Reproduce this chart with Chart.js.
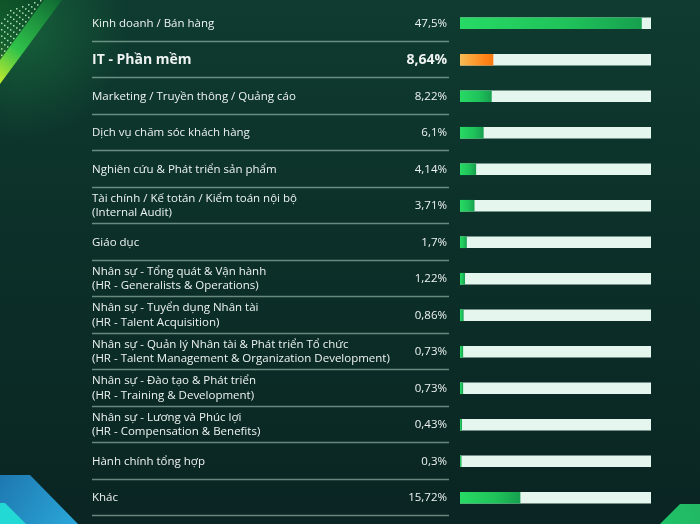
<!DOCTYPE html>
<html>
<head>
<meta charset="utf-8">
<script src="https://cdn.jsdelivr.net/npm/chart.js@4.4.0/dist/chart.umd.min.js"></script>
<style>
    html, body { margin: 0; padding: 0; }
    body {
        width: 700px;
        height: 524px;
        overflow: hidden;
        background: linear-gradient(180deg, #0f3b30 0%, #0c3029 45%, #0a2523 100%);
    }
    #wrap { position: relative; width: 700px; height: 524px; }
</style>
</head>
<body>
<div id="wrap"><canvas id="jobChart" width="700" height="524"></canvas></div>
<script>
// nhóm ngành (mỗi phần tử là các dòng của nhãn)
var categories = [
    ['Kinh doanh / Bán hàng'],
    ['IT - Phần mềm'],
    ['Marketing / Truyền thông / Quảng cáo'],
    ['Dịch vụ chăm sóc khách hàng'],
    ['Nghiên cứu & Phát triển sản phẩm'],
    ['Tài chính / Kế totán / Kiểm toán nội bộ', '(Internal Audit)'],
    ['Giáo dục'],
    ['Nhân sự - Tổng quát & Vận hành', '(HR - Generalists & Operations)'],
    ['Nhân sự - Tuyển dụng Nhân tài', '(HR - Talent Acquisition)'],
    ['Nhân sự - Quản lý Nhân tài & Phát triển Tổ chức', '(HR - Talent Management & Organization Development)'],
    ['Nhân sự - Đào tạo & Phát triển', '(HR - Training & Development)'],
    ['Nhân sự - Lương và Phúc lợi', '(HR - Compensation & Benefits)'],
    ['Hành chính tổng hợp'],
    ['Khác']
];
var percentValues = [47.5, 8.64, 8.22, 6.1, 4.14, 3.71, 1.7, 1.22, 0.86, 0.73, 0.73, 0.43, 0.3, 15.72];
var highlightIndex = 1;
var scaleMax = 50;

var FONT = '"Open Sans", "Noto Sans", sans-serif';

function fmt(v) {
    return String(v).replace('.', ',') + '%';
}

// nền trang trí ở các góc
var decoPlugin = {
    id: 'deco',
    beforeDraw: function (chart) {
        var ctx = chart.ctx;
        ctx.save();
        // góc trên trái - ánh xanh
        var glow = ctx.createRadialGradient(20, 30, 5, 20, 30, 110);
        glow.addColorStop(0, 'rgba(30,140,70,0.45)');
        glow.addColorStop(1, 'rgba(30,140,70,0)');
        ctx.fillStyle = glow;
        ctx.fillRect(0, 0, 140, 150);
        // dải xanh lá
        var g = ctx.createLinearGradient(0, 80, 60, 0);
        g.addColorStop(0, '#b8e830');
        g.addColorStop(0.35, '#2fc24a');
        g.addColorStop(1, '#0f6a33');
        ctx.fillStyle = g;
        ctx.beginPath();
        ctx.moveTo(0, 0);
        ctx.lineTo(62, 0);
        ctx.lineTo(0, 84);
        ctx.closePath();
        ctx.fill();
        ctx.fillStyle = 'rgba(10,60,35,0.75)';
        ctx.beginPath();
        ctx.moveTo(0, 0);
        ctx.lineTo(44, 0);
        ctx.lineTo(0, 60);
        ctx.closePath();
        ctx.fill();
        // chấm trắng
        ctx.fillStyle = 'rgba(220,255,220,0.8)';
        for (var k = 0; k < 6; k++) {
            for (var t = 0; t < 14; t++) {
                var x0 = 40 - k * 6 - t * 3;
                var y0 = t * 4.2 + k * 2;
                if (x0 >= 0 && y0 < 60 - k * 7) ctx.fillRect(x0, y0, 1.5, 1.5);
            }
        }
        // góc dưới trái - khối xanh dương
        var gb = ctx.createLinearGradient(0, 475, 75, 524);
        gb.addColorStop(0, '#1e78b0');
        gb.addColorStop(1, '#2aa6d8');
        ctx.fillStyle = gb;
        ctx.beginPath();
        ctx.moveTo(0, 475);
        ctx.lineTo(30, 475);
        ctx.lineTo(78, 524);
        ctx.lineTo(0, 524);
        ctx.closePath();
        ctx.fill();
        ctx.fillStyle = '#22d9d6';
        ctx.beginPath();
        ctx.moveTo(0, 503);
        ctx.lineTo(5, 503);
        ctx.lineTo(26, 524);
        ctx.lineTo(0, 524);
        ctx.closePath();
        ctx.fill();
        // góc dưới phải - khối xanh lá
        var gr = ctx.createLinearGradient(660, 524, 700, 505);
        gr.addColorStop(0, '#1fc468');
        gr.addColorStop(1, '#22b763');
        ctx.fillStyle = gr;
        ctx.beginPath();
        ctx.moveTo(660, 524);
        ctx.lineTo(680, 504);
        ctx.lineTo(700, 504);
        ctx.lineTo(700, 524);
        ctx.closePath();
        ctx.fill();
        ctx.restore();
    }
};

// nhãn, giá trị và đường kẻ phân cách
var rowPlugin = {
    id: 'rows',
    afterDatasetsDraw: function (chart) {
        var ctx = chart.ctx;
        var y = chart.scales.y;
        var step = Math.abs(y.getPixelForValue(1) - y.getPixelForValue(0));
        ctx.save();
        categories.forEach(function (lines, i) {
            var cy = y.getPixelForValue(i);
            var bold = i === highlightIndex;
            var font = (bold ? '700 14px ' : '400 11.5px ') + FONT;
            ctx.fillStyle = '#eef3f1';
            ctx.textBaseline = 'middle';
            ctx.textAlign = 'left';
            ctx.font = font;
            var lh = 14.5;
            var start = cy - (lines.length - 1) * lh / 2;
            lines.forEach(function (ln, j) {
                ctx.fillText(ln, 92, start + j * lh);
            });
            ctx.textAlign = 'right';
            ctx.fillText(fmt(percentValues[i]), 447, cy);
            // đường kẻ
            var ly = Math.round(cy + step / 2 - 1) + 0.5;
            ctx.strokeStyle = 'rgba(165,200,187,0.6)';
            ctx.lineWidth = 1.5;
            ctx.beginPath();
            ctx.moveTo(92, ly);
            ctx.lineTo(449, ly);
            ctx.stroke();
        });
        ctx.restore();
    }
};

function barFill(context) {
    var chart = context.chart;
    if (!chart.chartArea) return '#22d25f';
    var xs = chart.scales.x;
    var v = percentValues[context.dataIndex];
    var x0 = xs.getPixelForValue(0);
    var x1 = xs.getPixelForValue(v);
    if (x1 - x0 < 1) x1 = x0 + 1;
    var g = chart.ctx.createLinearGradient(x0, 0, x1, 0);
    if (context.dataIndex === highlightIndex) {
        g.addColorStop(0, '#f6bc55');
        g.addColorStop(0.75, '#ff8418');
        g.addColorStop(1, '#fb7a10');
    } else {
        g.addColorStop(0, '#27da64');
        g.addColorStop(0.6, '#1fc25a');
        g.addColorStop(1, '#17a04f');
    }
    return g;
}

var ctxEl = document.getElementById('jobChart');
var jobChart = new Chart(ctxEl, {
    type: 'bar',
    data: {
        labels: categories.map(function (c) { return c.join(' '); }),
        datasets: [
            {
                label: 'Tỷ lệ',
                data: percentValues,
                backgroundColor: barFill,
                grouped: false,
                barThickness: 11,
                borderWidth: 0
            },
            {
                label: 'track',
                data: percentValues.map(function () { return scaleMax; }),
                backgroundColor: '#e4f6ee',
                grouped: false,
                barThickness: 11,
                borderWidth: 0
            }
        ]
    },
    plugins: [decoPlugin, rowPlugin],
    options: {
        indexAxis: 'y',
        responsive: false,
        animation: false,
        layout: {
            padding: { left: 460, right: 49, top: 5, bottom: 8 }
        },
        plugins: {
            legend: { display: false },
            tooltip: { enabled: false }
        },
        scales: {
            x: { display: false, min: 0, max: scaleMax },
            y: { display: false }
        }
    }
});
</script>
</body>
</html>
